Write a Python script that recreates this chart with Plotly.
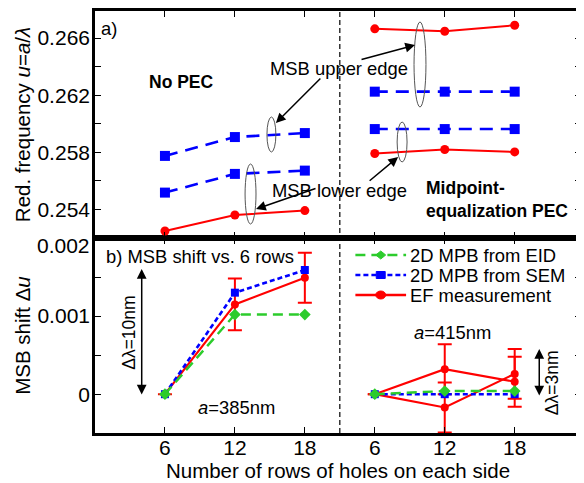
import plotly.graph_objects as go

# ---------------- data ----------------
rows = [6, 12, 18]
group_offset = 18  # right-hand group drawn after the left one
tick_labels = ["6", "12", "18", "6", "12", "18"]

# panel a) reduced frequency, no PEC (left group)
nopec_sim_upper = [0.25775, 0.25907, 0.25935]
nopec_sim_lower = [0.25518, 0.25649, 0.25672]
nopec_ef_lower = [0.25249, 0.25361, 0.25392]
# panel a) midpoint-equalization PEC (right group)
mpe_ef_upper = [0.26665, 0.26648, 0.26690]
mpe_sim_upper = [0.26225, 0.26225, 0.26225]
mpe_sim_lower = [0.25963, 0.25963, 0.25963]
mpe_ef_lower = [0.25792, 0.25820, 0.25803]

# panel b) MSB shift, a=385nm (left)
shift_eid_385 = [0.0, 0.00102, 0.00102]
shift_sem_385 = [0.0, 0.00130, 0.00159]
shift_ef_385 = [0.0, 0.00115, 0.00149]
err_ef_385 = [0.0, 0.00033, 0.00032]
# panel b) MSB shift, a=415nm (right)
shift_eid_415 = [0.0, 0.00004, 0.00004]
shift_sem_415 = [0.0, 0.0, 0.0]
shift_ef_415_a = [0.0, 0.00032, 0.00016]
shift_ef_415_b = [0.0, -0.00017, 0.00026]
err_ef_415 = [0.0, 0.00032, 0.00032]

top_ticks = [0.254, 0.256, 0.258, 0.260, 0.262, 0.264, 0.266]
top_tick_text = ["0.254", "", "0.258", "", "0.262", "", "0.266"]
bot_ticks = [0.0, 0.0005, 0.001, 0.0015, 0.002]
bot_tick_text = ["0", "", "0.001", "", ""]
bot_top_label = "0.002"  # drawn just below the panel divider, as in the original

legend_names = ["2D MPB from EID", "2D MPB from SEM", "EF measurement"]

# ---------------- layout helpers ----------------
PAGE = 8                      # default body margin of the html page
W, H = 584 - PAGE, 483 - PAGE
L, R, T, B = 95, 584, 11, 433  # plot box in window pixels
SPLIT = 238
FONT = "Liberation Sans, Arial, sans-serif"
RED, BLUE, GREEN = "#ff0000", "#0000ff", "#2ccc2c"


def px(x):
    return (x - L) / (R - L)


def py(y):
    return (B - y) / (B - T)


xr = [r + group_offset for r in rows]
allx = rows + xr

fig = go.Figure()

# ---- top panel (xaxis2 / yaxis2) ----
for ys, xs in [(nopec_sim_upper, rows), (nopec_sim_lower, rows),
               (mpe_sim_upper, xr), (mpe_sim_lower, xr)]:
    fig.add_trace(go.Scatter(x=xs, y=ys, xaxis="x2", yaxis="y2", mode="lines+markers",
                             line=dict(color=BLUE, width=2.6, dash="13px,8px"),
                             marker=dict(symbol="square", size=10, color=BLUE),
                             showlegend=False, hoverinfo="skip"))
for ys, xs in [(nopec_ef_lower, rows), (mpe_ef_upper, xr), (mpe_ef_lower, xr)]:
    fig.add_trace(go.Scatter(x=xs, y=ys, xaxis="x2", yaxis="y2", mode="lines+markers",
                             line=dict(color=RED, width=2),
                             marker=dict(symbol="circle", size=9, color=RED),
                             showlegend=False, hoverinfo="skip"))

# ---- bottom panel (xaxis / yaxis) ----
ef_style = dict(mode="lines+markers", line=dict(color=RED, width=2.2),
                marker=dict(symbol="circle", size=8, color=RED), showlegend=False)
for xs, ys, err in [(rows, shift_ef_385, err_ef_385), (xr, shift_ef_415_a, err_ef_415),
                    (xr, shift_ef_415_b, err_ef_415)]:
    fig.add_trace(go.Scatter(x=xs, y=ys, name=legend_names[2],
                             error_y=dict(type="data", array=err, color=RED, thickness=2, width=7),
                             **ef_style))
sem_style = dict(mode="lines+markers", line=dict(color=BLUE, width=2.6, dash="5px,3px"),
                 marker=dict(symbol="square", size=8, color=BLUE), showlegend=False)
for xs, ys in [(rows, shift_sem_385), (xr, shift_sem_415)]:
    fig.add_trace(go.Scatter(x=xs, y=ys, name=legend_names[1], **sem_style))
eid_style = dict(mode="lines+markers", line=dict(color=GREEN, width=2.4, dash="10px,6px"),
                 marker=dict(symbol="diamond", size=9, color=GREEN), showlegend=False)
for xs, ys in [(rows, shift_eid_385), (xr, shift_eid_415)]:
    fig.add_trace(go.Scatter(x=xs, y=ys, name=legend_names[0], **eid_style))

s = py(SPLIT)
axis_common = dict(showline=True, linecolor="black", linewidth=2.6, mirror="ticks",
                   ticks="inside", ticklen=6, tickwidth=1, tickcolor="black",
                   showgrid=False, zeroline=False,
                   tickfont=dict(family=FONT, size=21, color="black"))
xrange = [0, (R - L) / ((517.3 - 165.4) / 30)]

fig.update_layout(
    width=W, height=H,
    margin=dict(l=L - PAGE, r=(584 - R), t=T - PAGE, b=483 - B),
    paper_bgcolor="white", plot_bgcolor="white",
    font=dict(family=FONT, size=18, color="black"),
    showlegend=False,
    xaxis=dict(domain=[0, 1], anchor="y", range=xrange, tickvals=allx, ticktext=tick_labels,
               ticklabelstandoff=-6,
               title=dict(text="Number of rows of holes on each side", standoff=3,
                          font=dict(family=FONT, size=20.5)),
               **axis_common),
    xaxis2=dict(domain=[0, 1], anchor="y2", matches="x", tickvals=allx, showticklabels=False,
                **axis_common),
    yaxis=dict(domain=[0, s], anchor="x", range=[-0.000497, 0.002], tickvals=bot_ticks,
               ticktext=bot_tick_text, ticklabelstandoff=-2,
               title=dict(text="MSB shift Δ<i>u</i>", standoff=2, font=dict(family=FONT, size=20.5)),
               **axis_common),
    yaxis2=dict(domain=[s, 1], anchor="x2", range=[0.2520, 0.2679], tickvals=top_ticks,
                ticktext=top_tick_text, ticklabelstandoff=-2,
                title=dict(text="Red. frequency <i>u</i>=<i>a</i>/<i>λ</i>", standoff=2,
                           font=dict(family=FONT, size=20.5)),
                **axis_common),
)

shapes = [
    dict(type="line", xref="x", yref="paper", x0=21, x1=21, y0=0, y1=1,
         line=dict(color="black", width=1.2, dash="5px,3px")),
]
for (x0, y0, x1, y1) in [(268, 117, 277, 152), (246, 164, 257, 224),
                         (416, 22, 428, 107), (399, 122, 409, 162)]:
    shapes.append(dict(type="circle", xref="paper", yref="paper",
                       x0=px(x0), x1=px(x1), y0=py(y1), y1=py(y0),
                       line=dict(color="#555555", width=1)))

# ---- hand-drawn legend (compact row spacing like the original) ----
leg_rows = [255, 275, 295]
leg_styles = [(GREEN, "10px,6px", "diamond"), (BLUE, "5px,3px", "square"), (RED, "solid", "circle")]
for yy, (col, dash, sym) in zip(leg_rows, leg_styles):
    shapes.append(dict(type="line", xref="paper", yref="paper", x0=px(357), x1=px(408),
                       y0=py(yy), y1=py(yy), line=dict(color=col, width=2.4, dash=dash)))
    cx = 382.5
    if sym == "diamond":
        path = "M {} {} L {} {} L {} {} L {} {} Z".format(
            px(cx - 5), py(yy), px(cx), py(yy - 4), px(cx + 5), py(yy), px(cx), py(yy + 4))
        shapes.append(dict(type="path", xref="paper", yref="paper", path=path,
                           fillcolor=col, line=dict(color=col, width=1)))
    elif sym == "square":
        shapes.append(dict(type="rect", xref="paper", yref="paper", x0=px(cx - 4.5), x1=px(cx + 4.5),
                           y0=py(yy + 3.5), y1=py(yy - 3.5), fillcolor=col, line=dict(color=col, width=1)))
    else:
        shapes.append(dict(type="circle", xref="paper", yref="paper", x0=px(cx - 5), x1=px(cx + 5),
                           y0=py(yy + 4), y1=py(yy - 4), fillcolor=col, line=dict(color=col, width=1)))
fig.update_layout(shapes=shapes)


def txt(x, y, text, size=18.4, xanchor="center", angle=0, align="center"):
    fig.add_annotation(x=px(x), y=py(y), xref="paper", yref="paper", text=text,
                       showarrow=False, xanchor=xanchor, yanchor="middle", textangle=angle,
                       align=align, font=dict(family=FONT, size=size, color="black"))


def arrow(hx, hy, tx, ty, both=False):
    fig.add_annotation(x=px(hx), y=py(hy), xref="paper", yref="paper", text="",
                       showarrow=True, ax=tx - hx, ay=ty - hy, axref="pixel", ayref="pixel",
                       arrowhead=2, arrowsize=1.3, arrowwidth=1.5, arrowcolor="black",
                       startarrowhead=2, startarrowsize=1.3,
                       arrowside="end+start" if both else "end")


for yy, name in zip(leg_rows, legend_names):
    txt(410, yy, name, xanchor="left")

txt(92, 246, bot_top_label, size=21, xanchor="right")
txt(99, 28, "a)", xanchor="left")
txt(182, 82, "<b>No PEC</b>", size=17.5)
txt(341, 68, "MSB upper edge")
txt(341, 191, "MSB lower edge")
txt(426, 199, "<b>Midpoint-</b><br><b>equalization PEC</b>", size=17.5, xanchor="left", align="left")
txt(104, 256, "b) MSB shift vs. 6 rows", xanchor="left")
txt(237, 407, "<i>a</i>=385nm")
txt(455, 332, "<i>a</i>=415nm")
txt(129, 333, "Δλ=10nm", size=17.5, angle=-90)
txt(555, 383, "Δλ=3nm", size=17.5, angle=-90)

arrow(277, 123, 323, 77)
arrow(417, 45, 362, 60)
arrow(257, 209, 318, 188)
arrow(400, 157, 370, 182)
arrow(142, 269, 142, 396, both=True)
arrow(542, 349, 542, 397, both=True)

fig.write_html("out.html")
